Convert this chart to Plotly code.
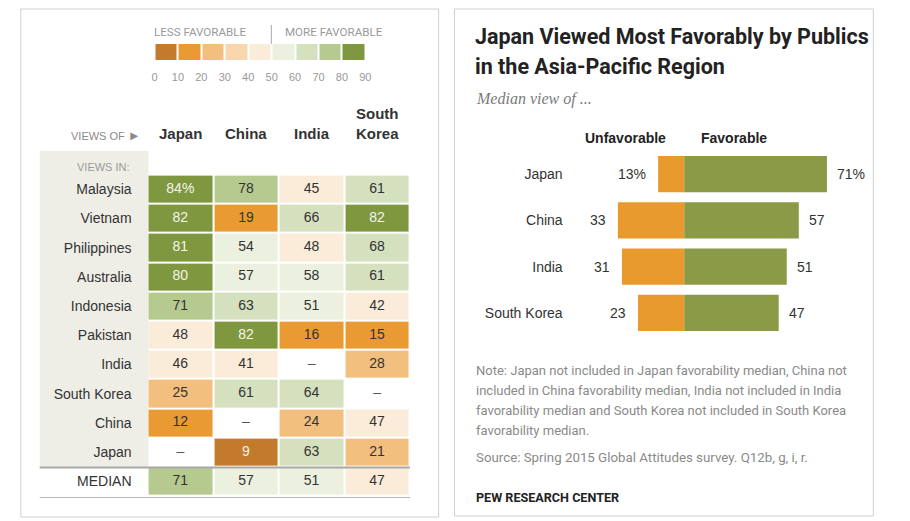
import plotly.graph_objects as go

W, H = 910, 521

# ---------------- data ----------------
view_of = ["Japan", "China", "India", "South Korea"]
view_of_labels = ["Japan", "China", "India", "South<br>Korea"]
views_in = ["Malaysia", "Vietnam", "Philippines", "Australia", "Indonesia",
            "Pakistan", "India", "South Korea", "China", "Japan"]
fav_japan = [84, 82, 81, 80, 71, 48, 46, 25, 12, None]
fav_china = [78, 19, 54, 57, 63, 82, 41, 61, None, 9]
fav_india = [45, 66, 48, 58, 51, 16, None, 64, 24, 63]
fav_skorea = [61, 82, 68, 61, 42, 15, 28, None, 47, 21]
median_fav = [71, 57, 51, 47]

legend_ticks = [0, 10, 20, 30, 40, 50, 60, 70, 80, 90]
bin_colors = ["#C27A2C", "#EA9A32", "#F3BF7F", "#F8D7AE", "#FBECDA",
              "#ECF1DF", "#D5E0BF", "#B6CA90", "#7F9840"]

bar_countries = ["Japan", "China", "India", "South Korea"]
median_unfav = [13, 33, 31, 23]

notes = [
    "Note: Japan not included in Japan favorability median, China not",
    "included in China favorability median, India not included in India",
    "favorability median and South Korea not included in South Korea",
    "favorability median.",
]
source = "Source: Spring 2015 Global Attitudes survey. Q12b, g, i, r."

# ---------------- helpers ----------------
def px(x):
    return x / W

def py(y):
    return 1 - y / H

SANS = "Liberation Sans, Arial, sans-serif"
ROBOTO = "Roboto, Liberation Sans, sans-serif"
SERIF = "Liberation Serif, serif"

rows = views_in + ["MEDIAN"]
cols_data = [fav_japan, fav_china, fav_india, fav_skorea]
table = [[cols_data[c][r] for c in range(4)] for r in range(len(views_in))]
table.append(median_fav)

n_bins = len(bin_colors)
cscale = []
for i, c in enumerate(bin_colors):
    cscale.append([i / n_bins, c])
    cscale.append([(i + 1) / n_bins, c])

def bin_of(v):
    return None if v is None else min(int(v // 10), n_bins - 1)

z_bins = [[bin_of(v) for v in row] for row in table]

fig = go.Figure()

# table heatmap
fig.add_trace(go.Heatmap(
    x=view_of, y=rows, z=z_bins, colorscale=cscale, zmin=-0.5, zmax=n_bins - 0.5,
    showscale=False, xgap=2, ygap=2, hoverinfo="skip", xaxis="x", yaxis="y"))

tx, ty, tt, tc = [], [], [], []
for r, row in enumerate(table):
    for c, v in enumerate(row):
        tx.append(view_of[c])
        ty.append(rows[r])
        if v is None:
            tt.append("–")
            tc.append("#555555")
        else:
            tt.append(f"{v}%" if (r == 0 and c == 0) else str(v))
            b = bin_of(v)
            tc.append("#F4F4EC" if b in (0, n_bins - 1) else "#333333")
fig.add_trace(go.Scatter(
    x=tx, y=ty, text=tt, mode="text", textposition="middle center",
    textfont=dict(family=SANS, size=14, color=tc), hoverinfo="skip",
    showlegend=False, xaxis="x", yaxis="y"))

# colour legend
fig.add_trace(go.Heatmap(
    x=[(legend_ticks[i] + legend_ticks[i + 1]) / 2 for i in range(n_bins)],
    y=[0], z=[list(range(n_bins))], colorscale=cscale, zmin=-0.5, zmax=n_bins - 0.5,
    showscale=False, xgap=2, hoverinfo="skip", xaxis="x2", yaxis="y2"))

# diverging bars
fig.add_trace(go.Bar(
    y=bar_countries, x=[-v for v in median_unfav], orientation="h",
    marker=dict(color="#E99A2E", line=dict(width=0)), hoverinfo="skip",
    showlegend=False, xaxis="x3", yaxis="y3"))
fig.add_trace(go.Bar(
    y=bar_countries, x=median_fav, orientation="h",
    marker=dict(color="#8B9A47", line=dict(width=0)), hoverinfo="skip",
    showlegend=False, xaxis="x3", yaxis="y3"))

hidden = dict(showgrid=False, zeroline=False, showline=False, ticks="")

fig.update_layout(
    width=W, height=H, margin=dict(l=0, r=0, t=0, b=0),
    paper_bgcolor="white", plot_bgcolor="rgba(0,0,0,0)",
    showlegend=False, barmode="relative", bargap=0.22,
    xaxis=dict(domain=[px(146), px(411)], type="category", categoryarray=view_of,
               showticklabels=False, **hidden),
    yaxis=dict(domain=[py(497.5), py(173)], type="category", categoryarray=rows,
               autorange="reversed", ticklabelstandoff=15,
               tickfont=dict(family=SANS, size=14, color="#333333"), **hidden),
    xaxis2=dict(domain=[px(153), px(366)], range=[0, 90], tickvals=legend_ticks,
                ticklabelstandoff=9, anchor="y2",
                tickfont=dict(family=SANS, size=11, color="#999999"), **hidden),
    yaxis2=dict(domain=[py(60), py(44)], range=[-0.5, 0.5], showticklabels=False,
                anchor="x2", **hidden),
    xaxis3=dict(domain=[px(570.3), px(854.5)], range=[-58, 82], showticklabels=False,
                anchor="y3", **hidden),
    yaxis3=dict(domain=[py(336), py(151)], type="category", categoryarray=bar_countries,
                autorange="reversed", anchor="x3", ticklabelstandoff=4,
                tickfont=dict(family=SANS, size=14, color="#333333"), **hidden),
)

shapes = [
    # panel frames
    dict(type="rect", xref="paper", yref="paper", x0=px(18), x1=px(440), y0=py(517), y1=py(9),
         line=dict(color="#D0D0D0", width=1), layer="below"),
    dict(type="rect", xref="paper", yref="paper", x0=px(456), x1=px(879), y0=py(516), y1=py(9),
         line=dict(color="#D0D0D0", width=1), layer="below"),
    # label column background
    dict(type="rect", xref="paper", yref="paper", x0=px(37), x1=px(147), y0=py(467), y1=py(151),
         fillcolor="#EEEEE7", line=dict(width=0), layer="below"),
    # median separators
    dict(type="line", xref="paper", yref="paper", x0=px(37), x1=px(411), y0=py(467.5), y1=py(467.5),
         line=dict(color="#A8A8A8", width=2), layer="above"),
    dict(type="line", xref="paper", yref="paper", x0=px(37), x1=px(411), y0=py(497.5), y1=py(497.5),
         line=dict(color="#B8B8B8", width=1.2), layer="above"),
    # legend separator
    dict(type="line", xref="paper", yref="paper", x0=px(271), x1=px(271), y0=py(44), y1=py(25),
         line=dict(color="#AAAAAA", width=1)),
]

ann = []
def A(text, x, y, xanchor="left", yanchor="middle", size=14, color="#333333", family=SANS, **kw):
    ann.append(dict(text=text, x=x, y=y, xref=kw.pop("xref", "paper"), yref=kw.pop("yref", "paper"),
                    xanchor=xanchor, yanchor=yanchor, showarrow=False,
                    font=dict(family=family, size=size, color=color), **kw))

A("LESS FAVORABLE", px(247), py(31.5), xanchor="right", size=11.6, color="#9A9A9A", family=ROBOTO)
A("MORE FAVORABLE", px(283), py(31.5), xanchor="left", size=11.6, color="#9A9A9A", family=ROBOTO)
A("VIEWS OF <span style='font-size:13px'>►</span>", px(141), py(136), xanchor="right",
  size=11, color="#8A8A8A")
A("VIEWS IN:", px(130), py(167.5), xanchor="right", size=11, color="#9A9A9A")
for cat, lab in zip(view_of, view_of_labels):
    A(f"<b>{lab}</b>", cat, py(144), xanchor="center", yanchor="bottom", size=15,
      color="#333333", xref="x")

# right panel text
A("<b>Japan Viewed Most Favorably by Publics</b>", px(475), py(36), size=21.5,
  color="#222222", family=ROBOTO)
A("<b>in the Asia-Pacific Region</b>", px(475), py(66.5), size=21.5, color="#222222",
  family=ROBOTO)
A("<i>Median view of ...</i>", px(476), py(98.5), size=16, color="#7A7A7A", family=SERIF)
A("<b>Unfavorable</b>", px(672), py(137.5), xanchor="right", size=14, color="#222222")
A("<b>Favorable</b>", px(703), py(137.5), xanchor="left", size=14, color="#222222")

for i, (c, u, f) in enumerate(zip(bar_countries, median_unfav, median_fav)):
    suf = "%" if i == 0 else ""
    A(f"{u}{suf}", -u, c, xanchor="right", xshift=-10, size=14, color="#333333",
      xref="x3", yref="y3")
    A(f"{f}{suf}", f, c, xanchor="left", xshift=8, size=14, color="#333333",
      xref="x3", yref="y3")

for i, line in enumerate(notes):
    A(line, px(476), py(370 + 20 * i), size=13, color="#8A8A8A", family=ROBOTO)
A(source, px(476), py(457), size=13.3, color="#8A8A8A", family=ROBOTO)
A("<b>PEW RESEARCH CENTER</b>", px(476), py(497), size=12.6, color="#222222", family=ROBOTO)

fig.update_layout(shapes=shapes, annotations=ann)
fig.write_html("out.html")
